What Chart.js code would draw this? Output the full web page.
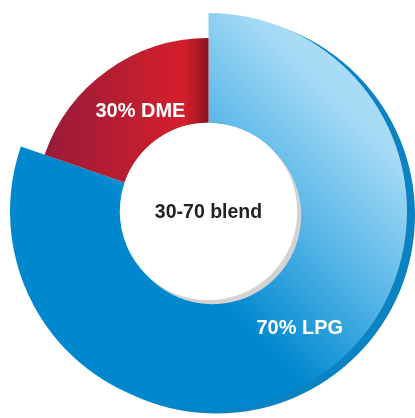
<!DOCTYPE html>
<html>
<head>
<meta charset="utf-8">
<script src="https://cdn.jsdelivr.net/npm/chart.js@4/dist/chart.umd.min.js"></script>
<style>
  html, body { margin: 0; padding: 0; background: #fff; }
  #wrap { width: 415px; height: 418px; }
</style>
</head>
<body>
<div id="wrap"><canvas id="blendChart"></canvas></div>
<script>
const fuels = ["LPG", "DME"];
const sliceLabels = ["70% LPG", "30% DME"];
// share of the ring each slice takes in the artwork (it is not drawn to scale)
const arcShare = [80.3, 19.7];
const centerText = "30-70 blend";

// outer radius of each slice relative to the full ring
const reach = [1, 0.874];

function ringGeom(chart) {
  const a = chart.chartArea;
  return {
    cx: (a.left + a.right) / 2,
    cy: (a.top + a.bottom) / 2,
    r: Math.min(a.right - a.left, a.bottom - a.top) / 2
  };
}

function sliceFill(context) {
  const chart = context.chart;
  if (!chart.chartArea) return context.dataIndex === 0 ? "#1a9ad9" : "#b41d30";
  const { cx, cy, r } = ringGeom(chart);
  const ctx = chart.ctx;
  if (context.dataIndex === 0) {
    const g = ctx.createLinearGradient(cx - 0.2 * r, cy + 0.2 * r, cx + 0.62 * r, cy - 0.62 * r);
    g.addColorStop(0, "#0088cf");
    g.addColorStop(0.45, "#4fb1e5");
    g.addColorStop(1, "#a8dbf6");
    return g;
  }
  const g = ctx.createLinearGradient(cx - 0.9 * r, 0, cx, 0);
  g.addColorStop(0, "#911b3b");
  g.addColorStop(0.86, "#d41f2c");
  g.addColorStop(0.93, "#b31a27");
  g.addColorStop(1, "#84121d");
  return g;
}

// Ring decoration: shorter DME slice, rim shadow, white hub, labels
const ringDecor = {
  id: "ringDecor",
  afterDatasetsUpdate(chart) {
    chart.getDatasetMeta(0).data.forEach((arc, i) => {
      arc.outerRadius = arc.outerRadius * reach[i];
    });
  },
  beforeDatasetsDraw(chart) {
    const arc = chart.getDatasetMeta(0).data[0];
    const ctx = chart.ctx;
    ctx.save();
    ctx.translate(8, 3.5);
    ctx.fillStyle = "#0b82c1";
    ctx.beginPath();
    ctx.arc(arc.x, arc.y, arc.outerRadius, arc.startAngle, arc.endAngle);
    ctx.arc(arc.x, arc.y, arc.innerRadius, arc.endAngle, arc.startAngle, true);
    ctx.closePath();
    ctx.fill();
    ctx.restore();
  },
  afterDatasetsDraw(chart) {
    const meta = chart.getDatasetMeta(0);
    const ctx = chart.ctx;
    const hub = meta.data[0];
    ctx.save();
    // hub shadow + hub
    ctx.fillStyle = "#d3d3d3";
    ctx.beginPath();
    ctx.arc(hub.x + 4, hub.y + 4, hub.innerRadius, 0, Math.PI * 2);
    ctx.fill();
    ctx.fillStyle = "#ffffff";
    ctx.beginPath();
    ctx.arc(hub.x, hub.y, hub.innerRadius, 0, Math.PI * 2);
    ctx.fill();

    ctx.textAlign = "center";
    ctx.textBaseline = "middle";
    ctx.font = "bold 19.5px 'Liberation Sans', Arial, sans-serif";
    ctx.fillStyle = "#231f20";
    ctx.fillText(centerText, hub.x, hub.y + 1);

    ctx.font = "bold 20px 'Liberation Sans', Arial, sans-serif";
    ctx.fillStyle = "#ffffff";
    meta.data.forEach((arc, i) => {
      const p = arc.tooltipPosition();
      ctx.fillText(sliceLabels[i], p.x + 8, p.y + (i === 0 ? 0 : 7));
    });
    ctx.restore();
  }
};

new Chart(document.getElementById("blendChart"), {
  type: "doughnut",
  data: {
    labels: fuels,
    datasets: [{
      data: arcShare,
      backgroundColor: sliceFill,
      borderWidth: 0,
      hoverOffset: 0
    }]
  },
  options: {
    responsive: true,
    maintainAspectRatio: false,
    animation: false,
    cutout: "44.7%",
    layout: { padding: { left: 10, right: 8, top: 13, bottom: 8 } },
    plugins: {
      legend: { display: false },
      tooltip: { enabled: false }
    }
  },
  plugins: [ringDecor]
});
</script>
</body>
</html>
